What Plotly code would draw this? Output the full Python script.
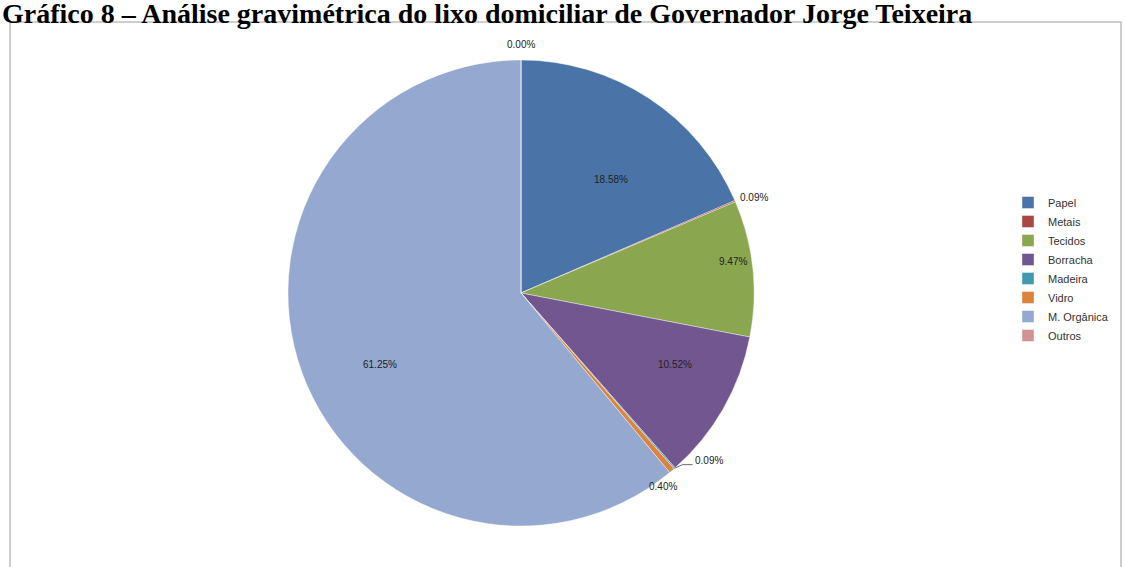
import math
import plotly.graph_objects as go

# Composição gravimétrica (%) do lixo domiciliar
categorias = ["Papel", "Metais", "Tecidos", "Borracha", "Madeira", "Vidro", "M. Orgânica", "Outros"]
percentuais = [18.58, 0.09, 9.47, 10.52, 0.09, 0.40, 61.25, 0.00]
cores = ["#4A74A8", "#AA4643", "#8AA64F", "#72568F", "#4198AF", "#DB843D", "#94A8D0", "#D19392"]

# distância radial de cada rótulo (fração do raio) e pequeno desvio angular (graus)
raio_rotulo = [0.62, 1.08, 0.92, 0.73, 1.08, 1.03, 0.68, 1.065]
desvio_rotulo = [5, 1, -2.5, -5, -7, 4, -7, 0]

W, H = 1126, 567
cx, cy, r = 521, 293, 233
fonte = "Liberation Sans Narrow, Liberation Sans, sans-serif"

fig = go.Figure()
fig.add_trace(go.Pie(
    labels=categorias,
    values=percentuais,
    textinfo="none",
    sort=False,
    direction="clockwise",
    rotation=0,
    marker=dict(colors=cores, line=dict(color="white", width=0.4)),
    showlegend=True,
    domain=dict(x=[(cx - r) / W, (cx + r) / W], y=[(H - cy - r) / H, (H - cy + r) / H]),
    hovertemplate="%{label}: %{value:.2f}%<extra></extra>",
))

# rótulos de percentual posicionados pelo ângulo médio de cada fatia
total = sum(percentuais)
anotacoes = []
formas = []
acum = 0.0
for i, v in enumerate(percentuais):
    meio = (acum + v / 2) / total * 360.0
    acum += v
    ang = math.radians(meio + desvio_rotulo[i])
    px = cx + raio_rotulo[i] * r * math.sin(ang)
    py = cy - raio_rotulo[i] * r * math.cos(ang)
    anotacoes.append(dict(
        text=f"{v:.2f}%", xref="paper", yref="paper",
        x=px / W, y=1 - py / H, xanchor="center", yanchor="middle",
        showarrow=False, font=dict(family=fonte, size=10, color="#222222"),
    ))
    if categorias[i] == "Madeira":
        a0 = math.radians(meio)
        x0 = cx + 1.0 * r * math.sin(a0)
        y0 = cy - 1.0 * r * math.cos(a0)
        x1 = px - 16
        y1 = py + 4
        formas.append(dict(type="path", xref="paper", yref="paper",
                           path=f"M {x0 / W},{1 - y0 / H} L {(x0 + 8) / W},{1 - y1 / H} L {x1 / W},{1 - y1 / H}",
                           line=dict(color="#444444", width=0.8)))

formas.append(dict(type="rect", xref="paper", yref="paper",
                   x0=10 / W, x1=1121 / W, y0=-0.02, y1=1 - 22 / H,
                   line=dict(color="#BFBFBF", width=1.5), fillcolor="rgba(0,0,0,0)", layer="below"))

anotacoes.append(dict(
    text="<b>Gráfico 8 – Análise gravimétrica do lixo domiciliar de Governador Jorge Teixeira</b>",
    xref="paper", yref="paper", x=0, y=1 + 4 / H, xanchor="left", yanchor="top",
    showarrow=False,
    font=dict(family="Liberation Serif, Times New Roman, serif", size=28, color="black"),
))

fig.update_layout(
    width=W, height=H,
    margin=dict(l=0, r=0, t=0, b=0, autoexpand=False),
    paper_bgcolor="white",
    plot_bgcolor="white",
    legend=dict(
        x=1008 / W, y=1 - 188 / H, xanchor="left", yanchor="top",
        font=dict(family=fonte, size=11, color="#333333"),
        itemwidth=30, tracegroupgap=0,
        bgcolor="rgba(0,0,0,0)",
    ),
    shapes=formas,
    annotations=anotacoes,
)

fig.write_html("out.html")
